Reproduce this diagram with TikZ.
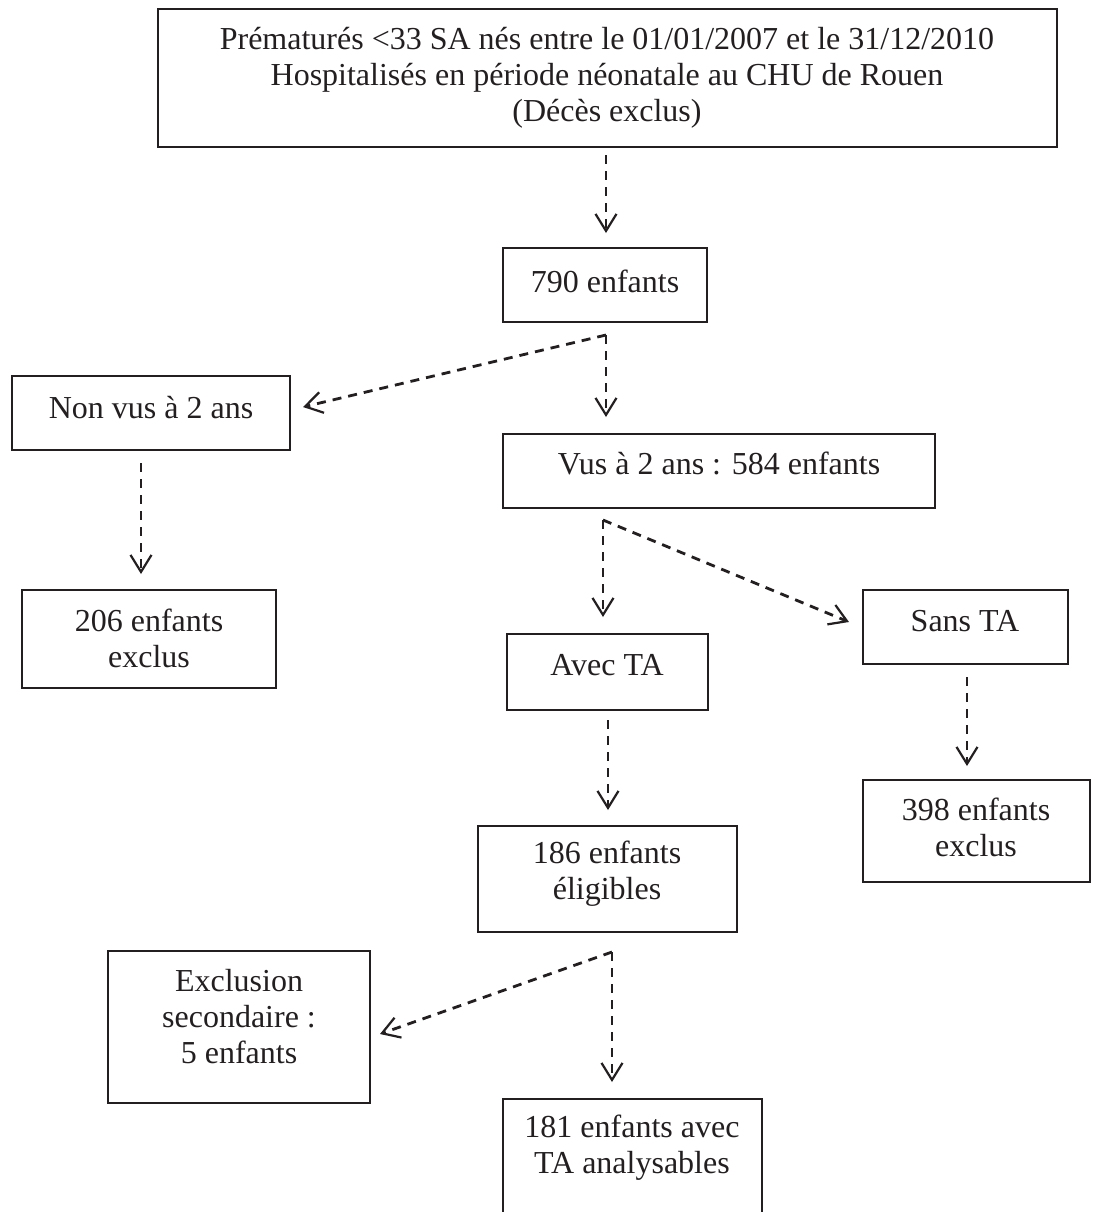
\documentclass[tikz,border=0pt]{standalone}
\usepackage{fontspec}
\setmainfont{Liberation Serif}
\usetikzlibrary{arrows.meta}
\definecolor{ink}{HTML}{231F20}
\begin{document}
\begin{tikzpicture}[x=0.5pt,y=-0.5pt,
  box/.style={draw=ink,line width=1pt,rectangle,inner sep=0pt,outer sep=0pt},
  txt/.style={text=ink,align=center,inner sep=0pt,font=\fontsize{16pt}{18pt}\selectfont},
  arr/.style={draw=ink,line width=1.4pt,dash pattern=on 4.5pt off 3.5pt,
    -{Straight Barb[length=8.5pt,width=10.5pt,line width=1.1pt]}}]
\useasboundingbox (0,0) rectangle (1101,1212);
% boxes (center, size in px * 0.5pt)
\node[box,line width=1.3pt,minimum width=449.5pt,minimum height=69pt] (top) at (607.5,78) {};
\node[box,minimum width=102pt,minimum height=37pt] (n790) at (605,285) {};
\node[box,minimum width=139pt,minimum height=37pt] (nonvus) at (151,413) {};
\node[box,minimum width=216pt,minimum height=37pt] (vus) at (719,471) {};
\node[box,minimum width=127pt,minimum height=49pt] (e206) at (149,639) {};
\node[box,minimum width=100.5pt,minimum height=38pt] (avec) at (607.5,672) {};
\node[box,minimum width=102.5pt,minimum height=37pt] (sans) at (965.5,627) {};
\node[box,minimum width=113.5pt,minimum height=51pt] (e398) at (976.5,831) {};
\node[box,minimum width=129.5pt,minimum height=53pt] (e186) at (607.5,879) {};
\node[box,minimum width=131pt,minimum height=76pt] (excl) at (239,1027) {};
\node[box,minimum width=129.5pt,minimum height=70pt] (e181) at (632.5,1169) {};
% texts
\node[txt] (ttop) at (607,78) {Prématurés <33 SA nés entre le 01/01/2007 et le 31/12/2010\\Hospitalisés en période néonatale au CHU de Rouen\\(Décès exclus)};
\node[txt] (t790) at (605,281) {790 enfants};
\node[txt] (tnonvus) at (151,408) {Non vus à 2 ans};
\node[txt] (tvus) at (719,463) {Vus à 2 ans : 584 enfants};
\node[txt] (t206) at (149,638) {206 enfants\\exclus};
\node[txt] (tavec) at (607,665) {Avec TA};
\node[txt] (tsans) at (965,621) {Sans TA};
\node[txt] (t398) at (976,827) {398 enfants\\exclus};
\node[txt] (t186) at (607,874) {186 enfants\\éligibles};
\node[txt] (texcl) at (239,1017) {Exclusion\\secondaire :\\ 5 enfants};
\node[txt] (t181) at (632,1148) {181 enfants avec\\TA analysables};
% split points
\coordinate (c1) at (606,335);
\coordinate (c2) at (603,520);
\coordinate (c3) at (612,952);
\coordinate (xa) at (606,0);
\coordinate (xb) at (141,0);
\coordinate (xc) at (608,0);
\coordinate (xd) at (967,0);
% connectors
\draw[arr,shorten <=4pt,shorten >=7.5pt] (top.south -| xa) -- (n790.north -| xa);
\draw[arr] (c1) -- ([xshift=6.5pt,yshift=3pt]nonvus.east);
\draw[arr,shorten >=8.5pt] (c1) -- (vus.north -| c1);
\draw[arr,shorten <=6.5pt,shorten >=8pt] (nonvus.south -| xb) -- (e206.north -| xb);
\draw[arr,shorten >=8.5pt] (c2) -- (avec.north -| c2);
\draw[arr] (c2) -- ([xshift=-7pt,yshift=2.5pt]sans.west);
\draw[arr,shorten <=5pt,shorten >=8pt] (avec.south -| xc) -- (e186.north -| xc);
\draw[arr,shorten <=6.5pt,shorten >=7pt] (sans.south -| xd) -- (e398.north -| xd);
\draw[arr] (c3) -- ([xshift=5pt,yshift=-3.5pt]excl.east);
\draw[arr,shorten >=8.5pt] (c3) -- (e181.north -| c3);
\end{tikzpicture}
\end{document}
